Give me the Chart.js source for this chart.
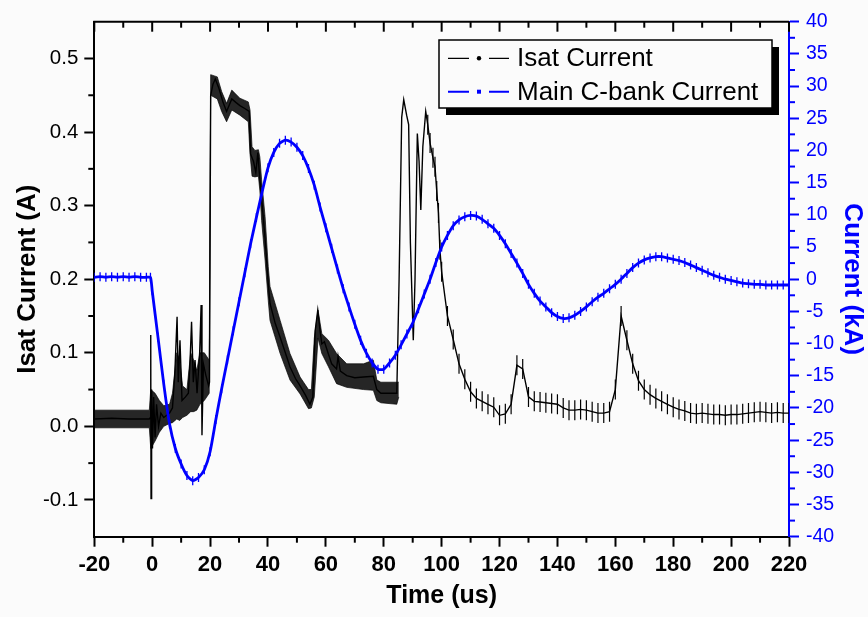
<!DOCTYPE html>
<html>
<head>
<meta charset="utf-8">
<title>Isat Current / Main C-bank Current</title>
<script src="https://cdn.jsdelivr.net/npm/chart.js@4.4.1/dist/chart.umd.min.js"></script>
<style>
  html, body { margin: 0; padding: 0; background: #fbfbfb; }
  #wrap { position: relative; width: 868px; height: 617px; }
</style>
</head>
<body>
<div id="wrap"><canvas id="isatChart"></canvas></div>
<script>
//-- tick values --
const timeTicks = [-20, 0, 20, 40, 60, 80, 100, 120, 140, 160, 180, 200, 220];
const isatTicks = [-0.1, 0.0, 0.1, 0.2, 0.3, 0.4, 0.5];
const kaTicks = [-40, -35, -30, -25, -20, -15, -10, -5, 0, 5, 10, 15, 20, 25, 30, 35, 40];

//-- Main C-bank current (kA) --
const cbankTime = [
  -20, -18, -16, -14, -12, -10, -8, -6, -4, -2, -0.6,
  0, 2, 4, 6, 8, 10, 12, 14, 16, 18,
  20, 22, 24, 26, 28, 30, 32, 34, 36, 38,
  40, 42, 44, 46, 48, 50, 52, 54, 56, 58,
  60, 62, 64, 66, 68, 70, 72, 74, 76, 78,
  80, 82, 84, 86, 88, 90, 92, 94, 96, 98,
  100, 102, 104, 106, 108, 110, 112, 114, 116, 118,
  120, 122, 124, 126, 128, 130, 132, 134, 136, 138,
  140, 142, 144, 146, 148, 150, 152, 154, 156, 158,
  160, 162, 164, 166, 168, 170, 172, 174, 176, 178,
  180, 182, 184, 186, 188, 190, 192, 194, 196, 198,
  200, 202, 204, 206, 208, 210, 212, 214, 216, 218,
  220
];
const cbankKA = [
  0.3, 0.4, 0.3, 0.4, 0.3, 0.4, 0.3, 0.4, 0.3, 0.3, 0.3,
  -1.8, -9, -16.3, -22.5, -26.3, -28.7, -30.5, -31.3, -30.8, -29.6,
  -26.8, -21.8, -17, -12.5, -8, -3.5, 1, 5.5, 9.6, 13.6,
  17.3, 19.7, 21.1, 21.6, 21.3, 20.5, 19.2, 17.2, 14.6, 11.2,
  8, 4.8, 1.6, -1.5, -4.3, -7, -9.5, -11.5, -13, -14,
  -14, -13, -11.8, -10.2, -8.5, -6.8, -4.6, -2.3, 0, 2.6,
  5, 6.8, 8.3, 9.2, 9.7, 9.9, 9.8, 9.3, 8.6, 7.9,
  6.8, 5.5, 4, 2.5, 0.9, -0.8, -2.2, -3.4, -4.3, -5.2,
  -5.8, -6.1, -6, -5.6, -5, -4.3, -3.5, -2.8, -2.2, -1.5,
  -0.8, 0, 0.9, 1.8, 2.5, 3, 3.3, 3.5, 3.5, 3.3,
  3.1, 2.9, 2.6, 2.2, 1.8, 1.4, 1, 0.6, 0.3, 0,
  -0.2, -0.4, -0.6, -0.7, -0.8, -0.8, -0.9, -0.9, -0.9, -0.9,
  -0.9
];

//-- Isat current (A), centre of the black trace --
const isatTime = [
  -20, -14, -8, -1, -0.6, -0.5, -0.4, -0.2, 0.1, 0.5,
  1, 1.5, 2.2, 3, 4, 5, 6, 7, 7.8, 8.6,
  9, 9.6, 10.3, 11.5, 12.5, 13.1, 13.6, 14.2, 14.8, 15.5,
  16.4, 16.9, 17.2, 17.7, 18.5, 19.5, 19.8, 20.2, 21, 21.8,
  23, 24.5, 25.7, 27.5, 29, 30.3, 32, 33.5, 34, 35,
  35.8, 36.5, 37, 37.8, 39, 40.1, 40.7, 42.5, 44.2, 46,
  47.6, 49.5, 51.1, 53, 54.5, 55.5, 56.3, 57.2, 58, 58.6,
  59.5, 60.9, 62, 63.7, 64.2, 65, 67.2, 70, 73, 76.4,
  77.6, 79, 82, 84.5, 85.3, 86.2, 86.9, 87.9, 88.6, 89.2,
  90.2, 90.8, 91.6, 92.2, 92.8, 93.5, 94.5, 95.2, 96, 97,
  97.7, 98.3, 98.9, 99.4,
  100, 102, 104, 106, 108, 110, 112, 114, 116, 118,
  120, 122, 124, 126, 128, 130, 132, 134, 136, 138,
  140, 142, 144, 146, 148, 150, 152, 154, 156, 158,
  160, 162, 164, 166, 168, 170, 172, 174, 176, 178,
  180, 182, 184, 186, 188, 190, 192, 194, 196, 198,
  200, 202, 204, 206, 208, 210, 212, 214, 216, 218,
  220
];
const isatAmp = [
  0.010, 0.011, 0.010, 0.010, 0.012, 0.124, -0.098, 0.05, -0.03, 0.04,
  -0.015, 0.03, 0.0, 0.018, 0.012, 0.015, 0.018, 0.025, 0.07, 0.149,
  0.06, 0.117, 0.035, 0.04, 0.045, 0.09, 0.142, 0.06, 0.09, 0.045,
  0.1, 0.165, -0.012, 0.085, 0.07, 0.055, 0.06, 0.45, 0.465, 0.472,
  0.46, 0.44, 0.428, 0.445, 0.44, 0.436, 0.432, 0.428, 0.37, 0.36,
  0.345, 0.372, 0.345, 0.31, 0.255, 0.194, 0.167, 0.14, 0.121, 0.1,
  0.081, 0.065, 0.055, 0.042, 0.03, 0.04, 0.13, 0.158, 0.13, 0.112,
  0.115, 0.098, 0.085, 0.078, 0.095, 0.075, 0.069, 0.066, 0.067, 0.068,
  0.05, 0.045, 0.045, 0.045, 0.2, 0.42, 0.444, 0.423, 0.41, 0.25,
  0.117, 0.2, 0.398, 0.36, 0.294, 0.38, 0.428, 0.41, 0.385, 0.365,
  0.353, 0.32, 0.29, 0.24,
  0.21, 0.15, 0.118, 0.085, 0.064, 0.047, 0.038, 0.034, 0.030, 0.026,
  0.015, 0.017, 0.03, 0.083, 0.078, 0.040, 0.034, 0.033, 0.032, 0.031,
  0.030, 0.025, 0.022, 0.022, 0.023, 0.022, 0.020, 0.018, 0.018, 0.020,
  0.050, 0.150, 0.117, 0.085, 0.062, 0.050, 0.043, 0.038, 0.034, 0.030,
  0.026, 0.023, 0.021, 0.018, 0.017, 0.018, 0.017, 0.016, 0.016, 0.015,
  0.016, 0.016, 0.017, 0.018, 0.019, 0.020, 0.019, 0.018, 0.019, 0.018,
  0.018
];

//-- noise envelope of the black trace (dense part, up to ~85 us) --
const bandTime = [
  -20, -1, -0.5, 1, 2.5, 4, 6, 7, 8.5, 9.5,
  10.5, 12, 13.3, 14.3, 15.4, 16.5, 18, 19.7, 20.2, 22.5,
  24, 25.7, 27.5, 30.3, 33.2, 33.8, 34.5, 35.5, 36.7, 37.2,
  37.8, 39, 40.1, 40.7, 44.2, 47.6, 51.1, 54, 55, 56,
  57.3, 58.6, 60.9, 63.7, 67.2, 73, 76.4, 77.6, 79, 84.5,
  85.2
];
const bandHi = [
  0.022, 0.022, 0.05, 0.045, 0.035, 0.028, 0.03, 0.045, 0.10, 0.09,
  0.055, 0.05, 0.10, 0.09, 0.076, 0.10, 0.10, 0.09, 0.478, 0.475,
  0.455, 0.439, 0.457, 0.446, 0.441, 0.43, 0.38, 0.375, 0.376, 0.366,
  0.335, 0.285, 0.217, 0.19, 0.144, 0.099, 0.067, 0.05, 0.05, 0.12,
  0.158, 0.126, 0.117, 0.099, 0.085, 0.085, 0.09, 0.063, 0.06, 0.06,
  0.06
];
const bandLo = [
  -0.002, -0.002, -0.03, -0.02, -0.008, 0.0, 0.004, 0.005, 0.01, 0.008,
  0.012, 0.015, 0.02, 0.02, 0.022, 0.03, 0.035, 0.045, 0.45, 0.445,
  0.428, 0.414, 0.43, 0.423, 0.414, 0.37, 0.34, 0.339, 0.34, 0.32,
  0.28, 0.226, 0.171, 0.144, 0.099, 0.063, 0.044, 0.024, 0.025, 0.04,
  0.12, 0.099, 0.081, 0.058, 0.053, 0.05, 0.049, 0.035, 0.032, 0.03,
  0.04
];

const FONT = '"Liberation Sans", Arial, Helvetica, sans-serif';
const BLUE = '#0000ff';

const toXY = (xs, ys) => xs.map((x, i) => ({ x, y: ys[i] }));

//-- minor ticks, top frame and mirrored top ticks --
const frameTicks = {
  id: 'frameTicks',
  afterDraw(chart) {
    const { ctx, chartArea: a, scales } = chart;
    const mids = scale => {
      const out = [];
      for (let i = 0; i < scale.ticks.length - 1; i++) {
        out.push(scale.getPixelForValue((scale.ticks[i].value + scale.ticks[i + 1].value) / 2));
      }
      return out;
    };
    const seg = (x1, y1, x2, y2) => { ctx.beginPath(); ctx.moveTo(x1, y1); ctx.lineTo(x2, y2); ctx.stroke(); };
    ctx.save();
    ctx.lineWidth = 2;
    ctx.strokeStyle = '#000';
    seg(a.left - 1, a.top, a.right, a.top);
    scales.x.ticks.forEach(t => {
      const px = scales.x.getPixelForValue(t.value);
      seg(px, a.top, px, a.top + 10);
    });
    mids(scales.x).forEach(px => {
      seg(px, a.bottom, px, a.bottom + 6);
      seg(px, a.top, px, a.top + 6);
    });
    mids(scales.y).forEach(py => seg(a.left, py, a.left - 6, py));
    ctx.strokeStyle = BLUE;
    mids(scales.y1).forEach(py => seg(a.right, py, a.right + 6, py));
    ctx.restore();
  }
};

//-- framed legend with drop shadow --
const boxLegend = {
  id: 'boxLegend',
  afterDraw(chart) {
    const { ctx, chartArea: a } = chart;
    const w = 333, h = 68;
    const x0 = a.right - 17 - w, y0 = a.top + 18.3;
    const rows = [
      { label: chart.data.datasets[1].label, color: '#000', marker: 'dot', y: y0 + 18.3, lw: 1.3 },
      { label: chart.data.datasets[0].label, color: BLUE, marker: 'square', y: y0 + 51.7, lw: 2 }
    ];
    ctx.save();
    ctx.fillStyle = '#000';
    ctx.fillRect(x0 + 7, y0 + 7, w, h);
    ctx.fillStyle = '#fbfbfb';
    ctx.fillRect(x0, y0, w, h);
    ctx.strokeStyle = '#000';
    ctx.lineWidth = 1.5;
    ctx.strokeRect(x0, y0, w, h);
    rows.forEach(r => {
      ctx.strokeStyle = r.color;
      ctx.fillStyle = r.color;
      ctx.lineWidth = r.lw;
      ctx.beginPath();
      ctx.moveTo(x0 + 9, r.y); ctx.lineTo(x0 + 30, r.y);
      ctx.moveTo(x0 + 50, r.y); ctx.lineTo(x0 + 70, r.y);
      ctx.stroke();
      if (r.marker === 'dot') {
        ctx.beginPath(); ctx.arc(x0 + 40, r.y, 2.2, 0, Math.PI * 2); ctx.fill();
      } else {
        ctx.fillRect(x0 + 38, r.y - 2, 4, 4);
      }
      ctx.fillStyle = '#000';
      ctx.font = '26px ' + FONT;
      ctx.textBaseline = 'middle';
      ctx.textAlign = 'left';
      ctx.fillText(r.label, x0 + 78, r.y + 1);
    });
    ctx.restore();
  }
};

new Chart(document.getElementById('isatChart').getContext('2d'), {
  type: 'line',
  data: {
    datasets: [
      {
        label: 'Main C-bank Current',
        data: toXY(cbankTime, cbankKA),
        yAxisID: 'y1',
        borderColor: BLUE,
        borderWidth: 2.8,
        tension: 0.2,
        pointStyle: 'line',
        pointRotation: 90,
        pointRadius: 4.5,
        pointBorderWidth: 1.3,
        pointBorderColor: BLUE,
        fill: false
      },
      {
        label: 'Isat Current',
        data: toXY(isatTime, isatAmp),
        yAxisID: 'y',
        borderColor: '#000',
        borderWidth: 1.4,
        tension: 0,
        pointStyle: 'line',
        pointRotation: 90,
        pointRadius: c => (c.raw && c.raw.x >= 95 ? 10 : 0),
        pointBorderWidth: 1.2,
        pointBorderColor: '#000',
        fill: false
      },
      {
        label: 'isat-hi',
        data: toXY(bandTime, bandHi),
        yAxisID: 'y',
        borderColor: 'rgba(0,0,0,0.85)',
        borderWidth: 0.8,
        backgroundColor: 'rgba(0,0,0,0.85)',
        pointRadius: 0,
        tension: 0,
        fill: '+1'
      },
      {
        label: 'isat-lo',
        data: toXY(bandTime, bandLo),
        yAxisID: 'y',
        borderColor: 'rgba(0,0,0,0.85)',
        borderWidth: 0.8,
        pointRadius: 0,
        tension: 0,
        fill: false
      }
    ]
  },
  options: {
    responsive: true,
    maintainAspectRatio: false,
    animation: false,
    events: [],
    layout: { padding: { top: 21.7, left: 0, right: 0, bottom: 0 } },
    plugins: {
      legend: { display: false },
      tooltip: { enabled: false }
    },
    scales: {
      x: {
        type: 'linear',
        min: -20,
        max: 220,
        afterBuildTicks: s => { s.ticks = timeTicks.map(v => ({ value: v })); },
        afterFit: s => { s.height = 80.3; },
        ticks: {
          autoSkip: false,
          maxRotation: 0,
          color: '#000',
          padding: 5,
          font: { family: FONT, size: 22, weight: 'bold' },
          callback: v => String(v)
        },
        grid: { drawOnChartArea: false, drawTicks: true, tickLength: 10, tickWidth: 2, tickColor: '#000' },
        border: { display: true, width: 2, color: '#000' },
        title: {
          display: true,
          text: 'Time (us)',
          color: '#000',
          font: { family: FONT, size: 25, weight: 'bold' },
          padding: { top: 0, bottom: 6 }
        }
      },
      y: {
        type: 'linear',
        position: 'left',
        min: -0.15,
        max: 0.55,
        afterBuildTicks: s => { s.ticks = isatTicks.map(v => ({ value: v })); },
        afterFit: s => { s.width = 94.3; },
        ticks: {
          color: '#000',
          padding: 6,
          font: { family: FONT, size: 20.5 },
          callback: v => v.toFixed(1)
        },
        grid: { drawOnChartArea: false, drawTicks: true, tickLength: 10, tickWidth: 2, tickColor: '#000' },
        border: { display: true, width: 2, color: '#000' },
        title: {
          display: true,
          text: 'Isat Current (A)',
          color: '#000',
          font: { family: FONT, size: 26, weight: 'bold' },
          padding: { top: 12.4, bottom: 0 }
        }
      },
      y1: {
        type: 'linear',
        position: 'right',
        min: -40,
        max: 40,
        afterBuildTicks: s => { s.ticks = kaTicks.map(v => ({ value: v })); },
        afterFit: s => { s.width = 79; },
        ticks: {
          color: BLUE,
          padding: 7,
          font: { family: FONT, size: 19.5 },
          callback: v => String(v)
        },
        grid: { drawOnChartArea: false, drawTicks: true, tickLength: 10, tickWidth: 2, tickColor: BLUE },
        border: { display: true, width: 2, color: BLUE },
        title: {
          display: true,
          text: 'Current (kA)',
          color: BLUE,
          font: { family: FONT, size: 26, weight: 'bold' },
          padding: { top: 0, bottom: 0 }
        }
      }
    }
  },
  plugins: [frameTicks, boxLegend]
});
</script>
</body>
</html>
